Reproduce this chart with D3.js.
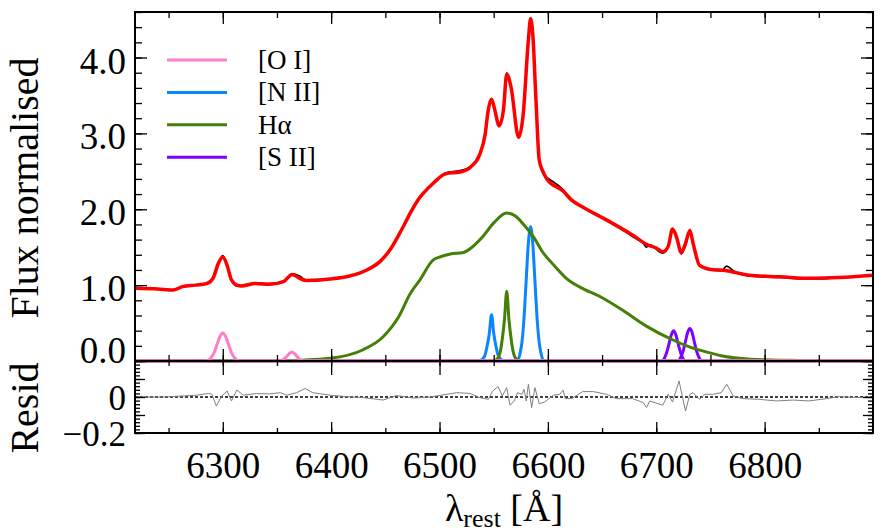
<!DOCTYPE html>
<meta charset="utf-8">
<style>

body {
  margin: 0;
  background: #fff;
}

svg text {
  font-family: "Liberation Serif", "Times New Roman", Tinos, "DejaVu Serif", serif !important;
  fill: #000;
}

.frame {
  fill: none;
  stroke: #000;
  stroke-width: 2;
}

.axis path {
  display: none;
}

.axis line {
  stroke: #000;
  stroke-width: 1.3;
}

.axis text {
  font-size: 37px;
}

</style>
<svg width="886" height="532"></svg>
<script src="https://d3js.org/d3.v7.min.js"></script>
<script>
    // total model (red)
    var fitLam  = [6219, 6240, 6254, 6263, 6275, 6285, 6291, 6296, 6300, 6304, 6308, 6313, 6317, 6330, 6343, 6356, 6364, 6371, 6377, 6399,
                   6417, 6433, 6445, 6455, 6465, 6473, 6480, 6485, 6494, 6506, 6519, 6529, 6537, 6542, 6545, 6548, 6551, 6555, 6559, 6562, 6566,
                   6573, 6577, 6582, 6584, 6586, 6589, 6592, 6596, 6599, 6614, 6622, 6632, 6654, 6678, 6692, 6700, 6706, 6711, 6715, 6719,
                   6723, 6727, 6731, 6734, 6740, 6749, 6765, 6786, 6814, 6844, 6869, 6900];
    var fitFlux = [0.96, 0.95, 0.935, 0.98, 1.00, 1.02, 1.09, 1.29, 1.37, 1.26, 1.07, 1.00, 0.99, 1.02, 1.01, 1.045, 1.14, 1.09, 1.06, 1.08,
                   1.12, 1.20, 1.31, 1.48, 1.73, 1.95, 2.12, 2.21, 2.34, 2.47, 2.49, 2.56, 2.72, 2.98, 3.31, 3.45, 3.31, 3.10, 3.31, 3.78, 3.61,
                   2.95, 3.22, 4.23, 4.51, 4.32, 3.44, 2.65, 2.48, 2.40, 2.24, 2.12, 2.03, 1.86, 1.66, 1.53, 1.49, 1.44, 1.51, 1.74, 1.62,
                   1.43, 1.55, 1.72, 1.55, 1.26, 1.21, 1.19, 1.13, 1.11, 1.09, 1.10, 1.13];

    // observed spectrum (black, mostly under the fit)
    var obsLam  = [6219, 6240, 6254, 6263, 6275, 6285, 6291, 6296, 6300, 6304, 6308, 6313, 6317, 6330, 6343, 6356, 6364, 6371, 6377, 6399,
                   6417, 6433, 6445, 6455, 6465, 6473, 6480, 6485, 6494, 6506, 6519, 6529, 6537, 6542, 6545, 6548, 6551, 6555, 6559, 6562, 6566,
                   6573, 6577, 6582, 6584, 6586, 6589, 6592, 6596, 6599, 6605, 6611, 6614, 6622, 6632, 6642, 6654, 6663, 6678, 6688, 6691,
                   6694, 6706, 6711, 6715, 6719, 6723, 6727, 6731, 6734, 6740, 6749, 6760, 6765, 6771, 6786, 6814, 6844, 6869, 6900];
    var obsFlux = [0.96, 0.95, 0.94, 0.98, 1.00, 1.02, 1.10, 1.28, 1.39, 1.27, 1.07, 0.99, 0.99, 1.03, 1.02, 1.05, 1.15, 1.12, 1.07, 1.08,
                   1.12, 1.20, 1.31, 1.48, 1.73, 1.95, 2.12, 2.21, 2.34, 2.48, 2.51, 2.57, 2.72, 2.98, 3.31, 3.46, 3.30, 3.11, 3.30, 3.80, 3.60,
                   2.94, 3.22, 4.24, 4.52, 4.31, 3.45, 2.66, 2.46, 2.42, 2.36, 2.30, 2.26, 2.12, 2.03, 1.95, 1.86, 1.79, 1.64, 1.55, 1.50,
                   1.53, 1.42, 1.51, 1.74, 1.62, 1.41, 1.52, 1.73, 1.54, 1.26, 1.21, 1.19, 1.25, 1.19, 1.12, 1.10, 1.08, 1.10, 1.13];

    // components
    var haBroadLam  = [6219, 6340, 6371, 6399, 6429, 6448, 6463, 6473, 6482, 6494, 6500, 6510, 6522, 6530, 6540, 6550, 6562, 6570, 6577, 6587,
                       6595, 6607, 6617, 6630, 6648, 6670, 6692, 6715, 6730, 6746, 6760, 6777, 6800, 6823, 6860, 6900];
    var haBroadFlux = [0, 0, 0.01, 0.035, 0.145, 0.32, 0.60, 0.89, 1.07, 1.33, 1.37, 1.41, 1.43, 1.50, 1.64, 1.82, 1.95, 1.91, 1.81, 1.63,
                       1.44, 1.24, 1.09, 0.97, 0.85, 0.66, 0.45, 0.28, 0.19, 0.12, 0.07, 0.035, 0.015, 0.01, 0, 0];
    var haNarrowLam  = [6219, 6550, 6554, 6556, 6558, 6560, 6562, 6564, 6566, 6568, 6570, 6574, 6900];
    var haNarrowFlux = [0, 0, 0.04, 0.12, 0.30, 0.56, 0.92, 0.56, 0.30, 0.12, 0.04, 0, 0];
    var nii1Lam  = [6219, 6536, 6540, 6542, 6544, 6546, 6548, 6550, 6552, 6554, 6556, 6560, 6900];
    var nii1Flux = [0, 0, 0.03, 0.08, 0.20, 0.37, 0.61, 0.37, 0.20, 0.08, 0.03, 0, 0];
    var nii2Lam  = [6219, 6572, 6574, 6576, 6578, 6580, 6582, 6584, 6586, 6588, 6590, 6592, 6594, 6596, 6900];
    var nii2Flux = [0, 0, 0.08, 0.24, 0.57, 1.07, 1.56, 1.77, 1.56, 1.07, 0.57, 0.24, 0.08, 0, 0];
    var oi1Lam  = [6219, 6284, 6289, 6292, 6295, 6297, 6300, 6303, 6305, 6308, 6311, 6316, 6900];
    var oi1Flux = [0, 0, 0.04, 0.11, 0.23, 0.31, 0.37, 0.31, 0.23, 0.11, 0.04, 0, 0];
    var oi2Lam  = [6219, 6352, 6356, 6359, 6361.5, 6363.5, 6366, 6368.5, 6371, 6375, 6900];
    var oi2Flux = [0, 0, 0.02, 0.06, 0.10, 0.12, 0.10, 0.06, 0.02, 0, 0];
    var sii1Lam  = [6219, 6705, 6708, 6710, 6712, 6714, 6716, 6718, 6720, 6722, 6724, 6727, 6900];
    var sii1Flux = [0, 0, 0.05, 0.13, 0.24, 0.35, 0.40, 0.35, 0.24, 0.13, 0.05, 0, 0];
    var sii2Lam  = [6219, 6720, 6723, 6725, 6727, 6729, 6731, 6733, 6735, 6737, 6739, 6742, 6900];
    var sii2Flux = [0, 0, 0.06, 0.14, 0.26, 0.38, 0.43, 0.38, 0.26, 0.14, 0.06, 0, 0];

    // residuals
    var residLam = [6219, 6245, 6276, 6287, 6290, 6294, 6299, 6304, 6308, 6313, 6319, 6331, 6343, 6353, 6359, 6368, 6376, 6383, 6399, 6414,
                    6429, 6448, 6460, 6476, 6491, 6516, 6528, 6537, 6545, 6549, 6554, 6558, 6562, 6565, 6569, 6572, 6576, 6578, 6580, 6582,
                    6585, 6588, 6592, 6597, 6605, 6611, 6614, 6616, 6622, 6632, 6642, 6654, 6663, 6678, 6688, 6691, 6694, 6706, 6711, 6715,
                    6721, 6727, 6731, 6734, 6740, 6745, 6752, 6760, 6765, 6771, 6780, 6795, 6811, 6826, 6841, 6857, 6869, 6888, 6900];
    var residVal = [0, 0, 0.01, 0.02, 0.015, -0.05, 0.005, 0.033, -0.022, 0.039, 0.01, 0.019, 0.017, 0.024, 0.01, 0.024, 0.047, 0.024, 0.01, 0.002,
                    -0.003, -0.017, 0.008, -0.006, 0, 0.024, 0.02, -0.003, -0.013, 0.033, 0.058, 0.006, 0.052, -0.046, -0.022, 0.024, 0.015, 0.043, -0.022, 0.071,
                    -0.059, 0.052, -0.037, -0.028, 0.01, 0.015, 0.039, -0.009, -0.009, 0.03, 0.03, 0.015, -0.009, -0.009, -0.031, -0.059, -0.022, -0.046, 0.015, -0.028,
                    0.089, -0.078, 0.015, 0.024, -0.013, 0.015, 0.015, 0.024, 0.071, 0.006, -0.009, -0.013, -0.022, -0.017, -0.022, -0.009, 0.002, -0.003, 0];

    var legendNames  = ["[O I]", "[N II]", "H\u03b1", "[S II]"];
    var legendColors = ["#ff7ccb", "#0a84ff", "#447f08", "#8000ff"];
    var xTicks = [6300, 6400, 6500, 6600, 6700, 6800];
    var yTicks = [0, 1, 2, 3, 4];
    var residTicks = [-0.2, 0];

    var serif = "'Liberation Serif', 'Times New Roman', Tinos, 'DejaVu Serif', serif";

    var svg = d3.select("svg"),
        left = 135, right = 873,
        mainTop = 12, mainBottom = 361, resBottom = 433;

    var x = d3.scaleLinear().domain([6219, 6900]).range([left, right]);
    var y = d3.scaleLinear().domain([0, 4.6]).range([mainBottom, mainTop]);
    var yr = d3.scaleLinear().domain([-0.2, 0.2]).range([resBottom, mainBottom]);

    svg.append("clipPath").attr("id", "clipMain")
      .append("rect").attr("x", left).attr("y", mainTop - 5).attr("width", right - left).attr("height", mainBottom - mainTop + 7);
    svg.append("clipPath").attr("id", "clipRes")
      .append("rect").attr("x", left).attr("y", mainBottom).attr("width", right - left).attr("height", resBottom - mainBottom);

    var line = d3.line()
      .x(function(d) { return x(d[0]); })
      .y(function(d) { return y(d[1]); })
      .curve(d3.curveMonotoneX);

    var plot = svg.append("g").attr("clip-path", "url(#clipMain)");

    // components, drawn under the total
    var comps = [
      [sii1Lam, sii1Flux, legendColors[3]],
      [sii2Lam, sii2Flux, legendColors[3]],
      [nii1Lam, nii1Flux, legendColors[1]],
      [nii2Lam, nii2Flux, legendColors[1]],
      [haBroadLam, haBroadFlux, legendColors[2]],
      [haNarrowLam, haNarrowFlux, legendColors[2]],
      [oi1Lam, oi1Flux, legendColors[0]],
      [oi2Lam, oi2Flux, legendColors[0]]
    ];
    comps.forEach(function(c) {
      plot.append("path")
        .datum(d3.zip(c[0], c[1]))
        .attr("fill", "none")
        .attr("stroke", c[2])
        .attr("stroke-width", 3)
        .attr("d", line);
    });

    plot.append("path")
      .datum(d3.zip(obsLam, obsFlux))
      .attr("fill", "none")
      .attr("stroke", "#000")
      .attr("stroke-width", 1.6)
      .attr("d", line);

    plot.append("path")
      .datum(d3.zip(fitLam, fitFlux))
      .attr("fill", "none")
      .attr("stroke", "#ff0000")
      .attr("stroke-width", 3.5)
      .attr("stroke-linejoin", "round")
      .attr("d", line);

    // residual panel
    var res = svg.append("g").attr("clip-path", "url(#clipRes)");
    res.append("line")
      .attr("x1", left).attr("x2", right)
      .attr("y1", yr(0)).attr("y2", yr(0))
      .attr("stroke", "#000")
      .attr("stroke-width", 1.3)
      .attr("stroke-dasharray", "3,2");
    res.append("path")
      .datum(d3.zip(residLam, residVal))
      .attr("fill", "none")
      .attr("stroke", "#808080")
      .attr("stroke-width", 1)
      .attr("d", d3.line()
        .x(function(d) { return x(d[0]); })
        .y(function(d) { return yr(d[1]); }));

    // ticks, all pointing inwards
    var xMinor = d3.range(6250, 6900, 50);
    var yMinor = d3.range(0, 4.61, 0.2);
    var rMinor = d3.range(-0.2, 0.201, 0.02);
    var rMid = [-0.2, -0.1, 0, 0.1, 0.2];

    function ticks(axis, tx, ty) {
      var g = svg.append("g").attr("class", "axis")
        .attr("transform", "translate(" + tx + "," + ty + ")")
        .call(axis);
      g.attr("font-family", serif).attr("font-size", 37);
      return g;
    }
    var none = function() { return ""; };

    // main panel
    ticks(d3.axisTop(x).tickValues(xMinor).tickSize(-6).tickFormat(none), 0, mainTop);
    ticks(d3.axisTop(x).tickValues(xTicks).tickSize(-12).tickFormat(none), 0, mainTop);
    ticks(d3.axisBottom(x).tickValues(xMinor).tickSize(-6).tickFormat(none), 0, mainBottom);
    ticks(d3.axisBottom(x).tickValues(xTicks).tickSize(-12).tickFormat(none), 0, mainBottom);
    ticks(d3.axisLeft(y).tickValues(yMinor).tickSize(-7).tickFormat(none), left, 0);
    var yAxis = ticks(d3.axisLeft(y).tickValues(yTicks).tickSize(-12).tickPadding(9).tickFormat(d3.format(".1f")), left, 0);
    yAxis.selectAll("text").attr("dy", "0.42em");
    yAxis.selectAll("text").filter(function(d) { return d === 0; }).attr("dy", "0.04em");
    ticks(d3.axisRight(y).tickValues(yMinor).tickSize(-7).tickFormat(none), right, 0);
    ticks(d3.axisRight(y).tickValues(yTicks).tickSize(-12).tickFormat(none), right, 0);

    // residual panel
    ticks(d3.axisTop(x).tickValues(xMinor).tickSize(-5).tickFormat(none), 0, mainBottom);
    ticks(d3.axisTop(x).tickValues(xTicks).tickSize(-14).tickFormat(none), 0, mainBottom);
    ticks(d3.axisBottom(x).tickValues(xMinor).tickSize(-5).tickFormat(none), 0, resBottom);
    ticks(d3.axisBottom(x).tickValues(xTicks).tickSize(-11).tickPadding(19).tickFormat(d3.format("d")), 0, resBottom);
    ticks(d3.axisLeft(yr).tickValues(rMinor).tickSize(-5).tickFormat(none), left, 0);
    ticks(d3.axisLeft(yr).tickValues(rMid).tickSize(-10).tickFormat(none), left, 0);
    var rAxis = ticks(d3.axisLeft(yr).tickValues(residTicks).tickSize(0).tickPadding(9).tickFormat(function(d) {
      return d === 0 ? "0" : d3.format(".1f")(d);
    }), left, 0);
    rAxis.selectAll("text").attr("dy", "0.36em").style("font-size", "35px");
    ticks(d3.axisRight(yr).tickValues(rMinor).tickSize(-5).tickFormat(none), right, 0);
    ticks(d3.axisRight(yr).tickValues(rMid).tickSize(-10).tickFormat(none), right, 0);

    // frames
    svg.append("rect").attr("class", "frame")
      .attr("x", left).attr("y", mainTop).attr("width", right - left).attr("height", mainBottom - mainTop);
    svg.append("rect").attr("class", "frame")
      .attr("x", left).attr("y", mainBottom).attr("width", right - left).attr("height", resBottom - mainBottom);

    // legend
    var legend = svg.append("g").selectAll("g")
      .data(legendNames)
      .enter().append("g")
      .attr("transform", function(d, i) { return "translate(167," + (60 + i * 32.4) + ")"; });
    legend.append("line")
      .attr("x1", 0).attr("x2", 60)
      .attr("stroke", function(d, i) { return legendColors[i]; })
      .attr("stroke-width", 3);
    legend.append("text")
      .attr("x", 91)
      .attr("dy", "0.33em")
      .attr("font-family", serif)
      .style("font-size", "27px")
      .text(function(d) { return d; });

    // axis titles
    svg.append("text")
      .attr("transform", "translate(38,188) rotate(-90)")
      .attr("text-anchor", "middle")
      .attr("font-family", serif)
      .style("font-size", "40px")
      .text("Flux normalised");
    svg.append("text")
      .attr("transform", "translate(38,408) rotate(-90)")
      .attr("text-anchor", "middle")
      .attr("font-family", serif)
      .style("font-size", "40px")
      .text("Resid");

    var xt = svg.append("text")
      .attr("x", 504)
      .attr("y", 521)
      .attr("text-anchor", "middle")
      .attr("font-family", serif)
      .style("font-size", "38px");
    xt.append("tspan").text("\u03bb");
    xt.append("tspan").attr("dy", 6).style("font-size", "26px").text("rest");
    xt.append("tspan").attr("dy", -6).text(" [\u00c5]");

</script>
